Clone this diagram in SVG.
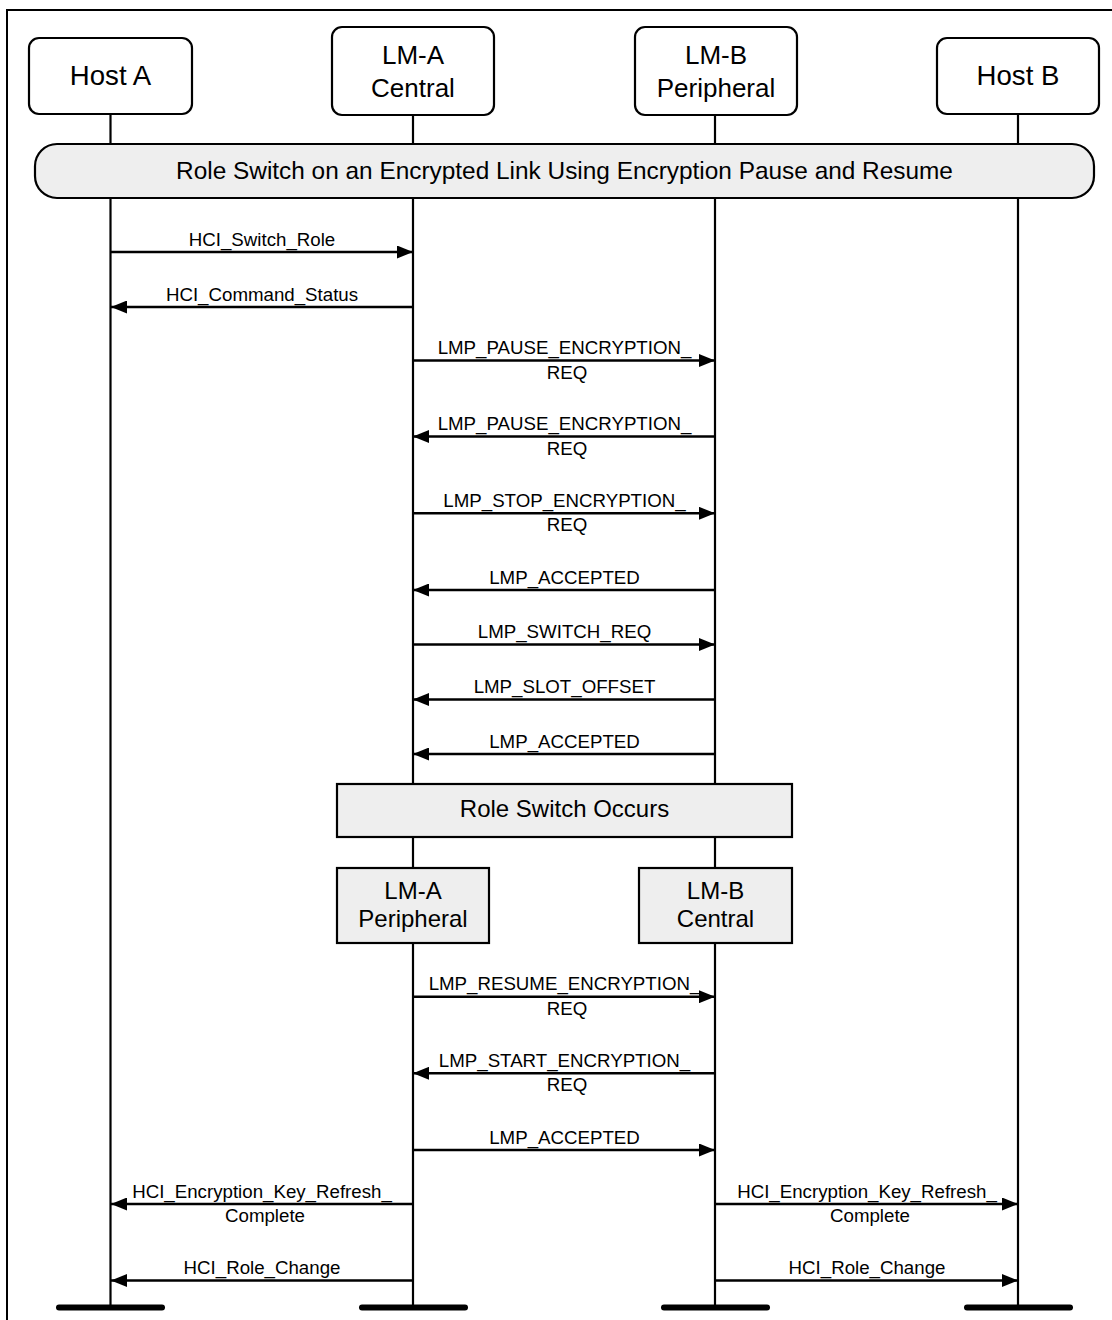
<svg xmlns="http://www.w3.org/2000/svg" width="1112" height="1320" viewBox="0 0 1112 1320">
<defs>
<style>
text{font-family:"Liberation Sans",Arial,sans-serif;fill:#000;text-anchor:middle}
.hd{font-size:26px}
.hh{font-size:27.6px}
.md{font-size:24px}
.tt{font-size:24.4px}
.lb{font-size:18.7px}
.box{fill:#fff;stroke:#000;stroke-width:2.2}
.gbox{fill:#eeeeee;stroke:#000;stroke-width:2.2}
.life{stroke:#000;stroke-width:2.2;fill:none}
.msg{stroke:#000;stroke-width:2.6;fill:none;marker-end:url(#ah)}
.bar{stroke:#000;stroke-width:6;stroke-linecap:round}
</style>
<marker id="ah" viewBox="0 0 16 13" refX="16" refY="6.5" markerWidth="16" markerHeight="13" markerUnits="userSpaceOnUse" orient="auto">
<path d="M0,0 L16,6.5 L0,13 Z" fill="#000"/>
</marker>
</defs>
<rect x="7" y="10" width="1112" height="1320" fill="#fff" stroke="#000" stroke-width="2"/>
<g id="lifelines">
<line class="life" x1="110.5" y1="114" x2="110.5" y2="1307"/>
<line class="life" x1="413" y1="115" x2="413" y2="1307"/>
<line class="life" x1="715" y1="115" x2="715" y2="1307"/>
<line class="life" x1="1018" y1="114" x2="1018" y2="1307"/>
<line class="bar" x1="59" y1="1307.5" x2="162" y2="1307.5"/>
<line class="bar" x1="362" y1="1307.5" x2="465" y2="1307.5"/>
<line class="bar" x1="664" y1="1307.5" x2="767" y2="1307.5"/>
<line class="bar" x1="967" y1="1307.5" x2="1070" y2="1307.5"/>
</g>
<g id="host-a"><rect class="box" x="29" y="38" width="163" height="76" rx="10"/><text class="hh" x="110.5" y="84.5">Host A</text></g>
<g id="lm-a-central"><rect class="box" x="332" y="27" width="162" height="88" rx="10"/><text class="hd" x="413" y="63.5">LM-A</text><text class="hd" x="413" y="96.5">Central</text></g>
<g id="lm-b-peripheral"><rect class="box" x="635" y="27" width="162" height="88" rx="10"/><text class="hd" x="716" y="63.5">LM-B</text><text class="hd" x="716" y="96.5">Peripheral</text></g>
<g id="host-b"><rect class="box" x="937" y="38" width="162" height="76" rx="10"/><text class="hh" x="1018" y="84.5">Host B</text></g>
<g id="phase-band"><rect class="gbox" x="35" y="144" width="1059" height="54" rx="22"/><text class="tt" x="564.5" y="179">Role Switch on an Encrypted Link Using Encryption Pause and Resume</text></g>
<g id="role-switch"><rect class="gbox" x="337" y="784" width="455" height="53"/><text class="md" x="564.5" y="816.5">Role Switch Occurs</text></g>
<g id="lm-a-peripheral"><rect class="gbox" x="337" y="868" width="152" height="75"/><text class="md" x="413" y="898.5">LM-A</text><text class="md" x="413" y="927">Peripheral</text></g>
<g id="lm-b-central"><rect class="gbox" x="639" y="868" width="153" height="75"/><text class="md" x="715.5" y="898.5">LM-B</text><text class="md" x="715.5" y="927">Central</text></g>
<g id="connectors">
<line class="msg" x1="111" y1="252" x2="413" y2="252"/>
<text class="lb" x="262" y="245.5">HCI_Switch_Role</text>
<line class="msg" x1="413" y1="307" x2="111" y2="307"/>
<text class="lb" x="262" y="300.5">HCI_Command_Status</text>
<line class="msg" x1="413" y1="360.5" x2="715" y2="360.5"/>
<text class="lb" x="564.5" y="354">LMP_PAUSE_ENCRYPTION_</text><text class="lb" x="567" y="378.5">REQ</text>
<line class="msg" x1="715" y1="436.5" x2="413" y2="436.5"/>
<text class="lb" x="564.5" y="430">LMP_PAUSE_ENCRYPTION_</text><text class="lb" x="567" y="454.5">REQ</text>
<line class="msg" x1="413" y1="513.3" x2="715" y2="513.3"/>
<text class="lb" x="564.5" y="507">LMP_STOP_ENCRYPTION_</text><text class="lb" x="567" y="531">REQ</text>
<line class="msg" x1="715" y1="590" x2="413" y2="590"/>
<text class="lb" x="564.5" y="583.5">LMP_ACCEPTED</text>
<line class="msg" x1="413" y1="644.5" x2="715" y2="644.5"/>
<text class="lb" x="564.5" y="638">LMP_SWITCH_REQ</text>
<line class="msg" x1="715" y1="699.5" x2="413" y2="699.5"/>
<text class="lb" x="564.5" y="693">LMP_SLOT_OFFSET</text>
<line class="msg" x1="715" y1="754" x2="413" y2="754"/>
<text class="lb" x="564.5" y="747.5">LMP_ACCEPTED</text>
<line class="msg" x1="413" y1="996.7" x2="715" y2="996.7"/>
<text class="lb" x="564.5" y="990">LMP_RESUME_ENCRYPTION_</text><text class="lb" x="567" y="1014.5">REQ</text>
<line class="msg" x1="715" y1="1073.3" x2="413" y2="1073.3"/>
<text class="lb" x="564.5" y="1067">LMP_START_ENCRYPTION_</text><text class="lb" x="567" y="1091">REQ</text>
<line class="msg" x1="413" y1="1150" x2="715" y2="1150"/>
<text class="lb" x="564.5" y="1143.5">LMP_ACCEPTED</text>
<line class="msg" x1="413" y1="1204" x2="111" y2="1204"/>
<text class="lb" x="262" y="1197.5">HCI_Encryption_Key_Refresh_</text><text class="lb" x="265" y="1222">Complete</text>
<line class="msg" x1="715" y1="1204" x2="1018" y2="1204"/>
<text class="lb" x="867" y="1197.5">HCI_Encryption_Key_Refresh_</text><text class="lb" x="870" y="1222">Complete</text>
<line class="msg" x1="413" y1="1280.5" x2="111" y2="1280.5"/>
<text class="lb" x="262" y="1274">HCI_Role_Change</text>
<line class="msg" x1="715" y1="1280.5" x2="1018" y2="1280.5"/>
<text class="lb" x="867" y="1274">HCI_Role_Change</text>
</g>
</svg>
